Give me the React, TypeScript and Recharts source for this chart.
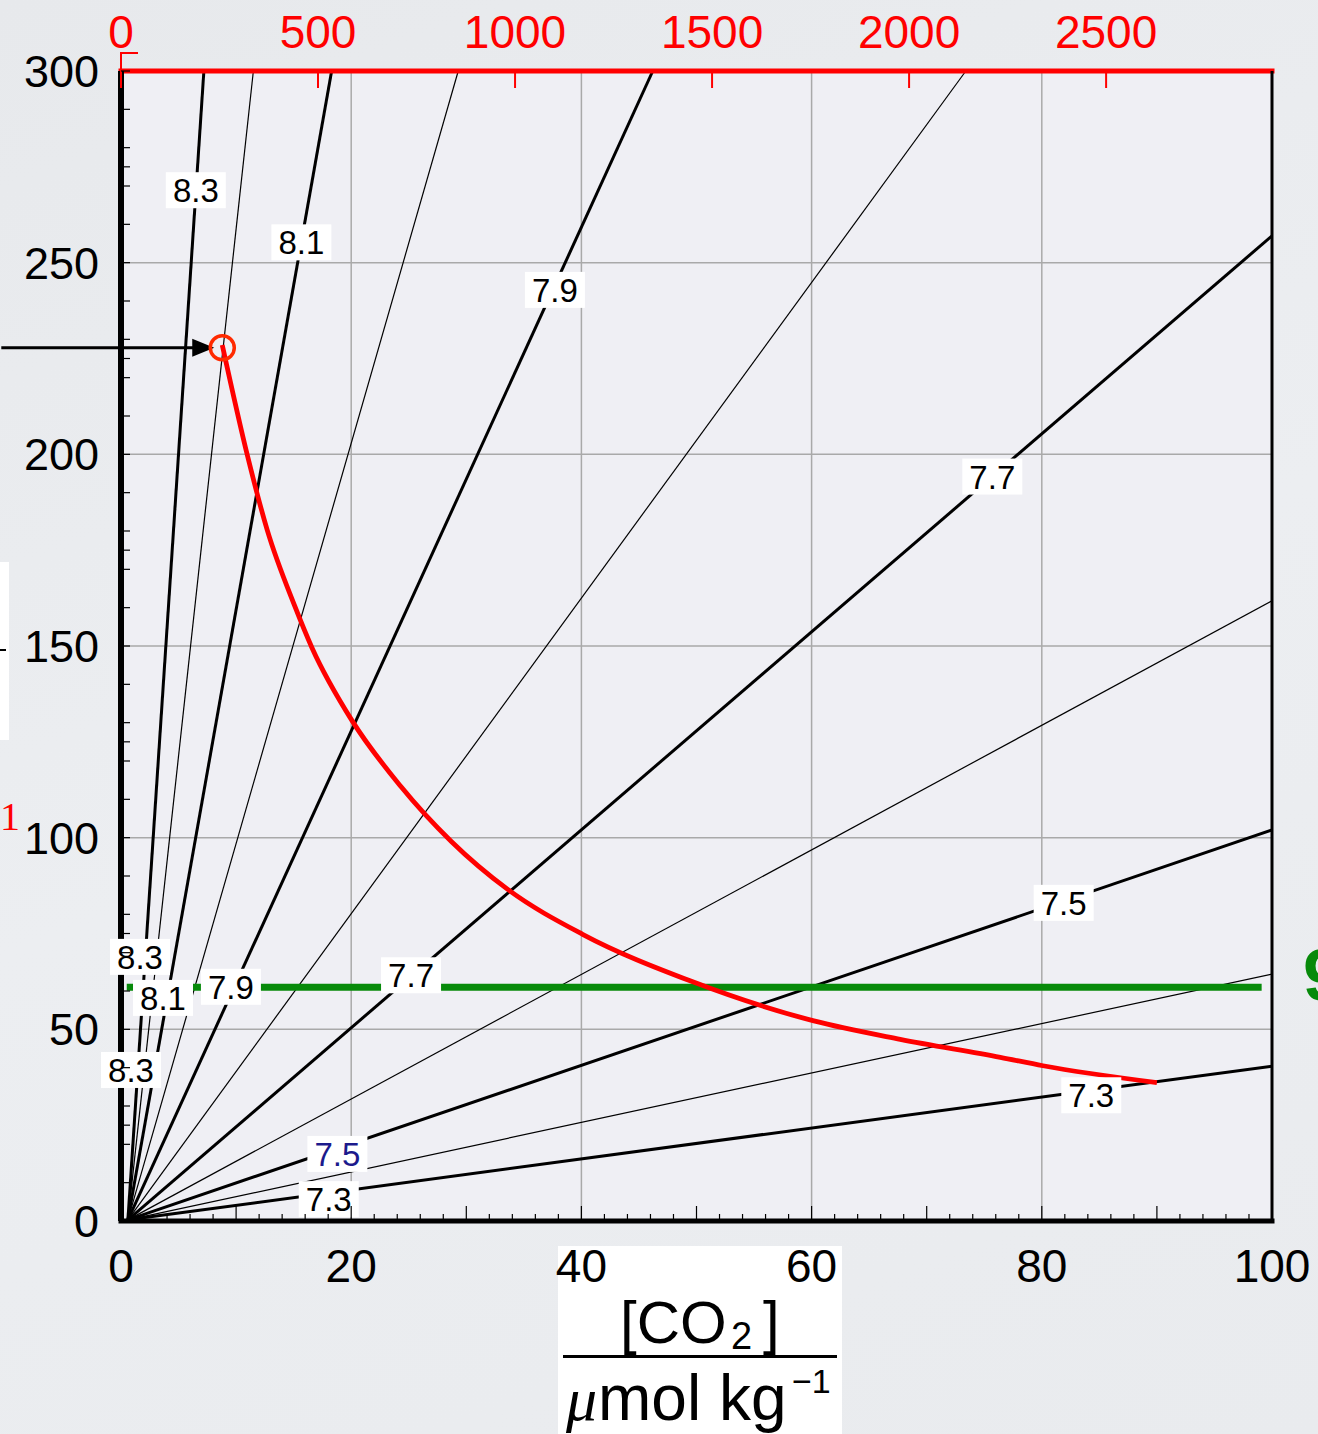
import React from "react";
import {
  ComposedChart,
  Line,
  Scatter,
  XAxis,
  YAxis,
  CartesianGrid,
  ReferenceLine,
} from "recharts";

const FONT = '"Liberation Sans", Arial, Helvetica, sans-serif';

// pH isolines: where each one leaves the plot box
const PH_VALUES = ["8.3", "8.2", "8.1", "8.0", "7.9", "7.8", "7.7", "7.6", "7.5", "7.4", "7.3"];
const PH_END_X = [7.2, 11.5, 18.3, 29.3, 46.2, 73.4, 100, 100, 100, 100, 100];
const PH_END_Y = [300, 300, 300, 300, 300, 300, 257, 161.8, 102, 64.4, 40.4];
const PH_HEAVY = [true, false, true, false, true, false, true, false, true, false, true];
const PH_START = { x: 0.6, y: 0.3 };

// isoline labels (white boxes)
const LABEL_TEXT = ["8.3", "8.1", "7.9", "7.7", "7.5", "7.3", "8.3", "8.1", "7.9", "7.7", "8.3", "7.5", "7.3"];
const LABEL_X = [6.5, 15.67, 37.7, 75.7, 81.9, 84.3, 1.65, 3.65, 9.55, 25.2, 0.87, 18.8, 18.05];
const LABEL_Y = [268.9, 255.3, 242.9, 194.2, 83, 32.8, 68.9, 58.2, 61.1, 64.1, 39.4, 17.5, 5.7];
const LABEL_COLOR = ["#000", "#000", "#000", "#000", "#000", "#000", "#000", "#000", "#000", "#000", "#000", "#1c1a8c", "#000"];

// red trajectory
const PATH_X = [8.8, 11, 12.7, 15.1, 16.6, 20.1, 24.3, 28.7, 33.6, 40.1, 49.5, 60.2, 67.7, 76.4, 80.1, 90];
const PATH_Y = [228.5, 199.5, 180.3, 160.4, 149.5, 130.4, 113.4, 99, 86.5, 74.8, 62.6, 52.2, 47.4, 42.7, 40.5, 36.1];

// start marker and arrow
const MARK_X = 8.8;
const MARK_Y = 227.8;
const ARROW_X = [-10.4, 8.1];

// green level
const GREEN_X = [0.5, 99.1];
const GREEN_Y = 61;

// axes
const X_TICKS = [0, 20, 40, 60, 80, 100];
const Y_TICKS = [0, 50, 100, 150, 200, 250, 300];
const TOP_TICKS = [0, 500, 1000, 1500, 2000, 2500];
const TOP_MAX = 2921;
const X_MINOR = Array.from({ length: 51 }, (_, i) => i * 2);
const Y_MINOR = Array.from({ length: 31 }, (_, i) => i * 10)
  .concat([25, 75, 125, 175, 225, 275])
  .sort((a, b) => a - b);

const isolines = PH_VALUES.map((ph, i) => ({
  ph,
  heavy: PH_HEAVY[i],
  data: [PH_START, { x: PH_END_X[i], y: PH_END_Y[i] }],
}));
const labels = LABEL_TEXT.map((text, i) => ({ x: LABEL_X[i], y: LABEL_Y[i], text, color: LABEL_COLOR[i] }));
const path = PATH_X.map((x, i) => ({ x, y: PATH_Y[i] }));
const green = GREEN_X.map((x) => ({ x, y: GREEN_Y }));

const LeftTick = ({ x, y, payload }: any) => (
  <text x={x - 22} y={y + 16} textAnchor="end" fontSize={45} fontFamily={FONT} fill="#000">
    {payload.value}
  </text>
);

const LeftMinorTick = ({ x, y }: any) => (
  <line x1={x + 1} x2={x + 10} y1={y} y2={y} stroke="#000" strokeWidth={1.2} />
);

const BottomTick = ({ x, y, payload }: any) => (
  <text x={x} y={y + 61} textAnchor="middle" fontSize={46} fontFamily={FONT} fill="#000">
    {payload.value}
  </text>
);

const BottomMinorTick = ({ x, y, payload }: any) => {
  const len = payload.value % 10 === 0 ? 13 : 5;
  return <line x1={x} x2={x} y1={y - 3} y2={y - 3 - len} stroke="#000" strokeWidth={1.2} />;
};

const TopTick = ({ x, y, payload }: any) => (
  <g>
    <line x1={x} x2={x} y1={y} y2={y + 17} stroke="#ff0000" strokeWidth={2} />
    {payload.value === 0 && (
      <path d={`M${x},${y} V${y - 18} H${x + 17}`} stroke="#ff0000" strokeWidth={2} fill="none" />
    )}
    <text x={x} y={y - 23} textAnchor="middle" fontSize={46} fontFamily={FONT} fill="#ff0000">
      {payload.value}
    </text>
  </g>
);

const LabelBox = (props: any) => {
  const { cx, cy, payload } = props;
  return (
    <g>
      <rect x={cx - 30} y={cy - 18} width={60} height={36} fill="#ffffff" />
      <text x={cx} y={cy + 12} textAnchor="middle" fontSize={33} fontFamily={FONT} fill={payload.color}>
        {payload.text}
      </text>
    </g>
  );
};

const Ring = ({ cx, cy }: any) => (
  <circle cx={cx} cy={cy} r={12} fill="none" stroke="#ff2a00" strokeWidth={3.5} />
);

const Arrow = (p: any) => (
  <g>
    <line x1={p.x1} y1={p.y1} x2={p.x2 - 18} y2={p.y2} stroke="#000" strokeWidth={3} />
    <polygon points={`${p.x2},${p.y2} ${p.x2 - 22},${p.y2 - 9} ${p.x2 - 22},${p.y2 + 9}`} fill="#000" />
  </g>
);

export default function App() {
  return (
    <div
      style={{
        position: "absolute",
        left: 0,
        top: 0,
        width: 1318,
        height: 1434,
        overflow: "hidden",
        background: "linear-gradient(160deg, #e7e9ec 0%, #eceef1 50%, #e9ebee 100%)",
      }}
    >
      <svg width={1318} height={1434} style={{ position: "absolute", left: 0, top: 0 }}>
        {/* page fragments cut by the crop */}
        <rect x={0} y={562} width={9} height={178} fill="#ffffff" />
        <rect x={0} y={649} width={6} height={2} fill="#000" />
        <text x={0} y={830} fontSize={40} fontFamily='"Liberation Serif", serif' fill="#ff0000">1</text>
        <text x={1303} y={1000} fontSize={72} fontWeight="bold" fontFamily={FONT} fill="#078a0a">9</text>

        {/* axis title */}
        <rect x={558} y={1246} width={284} height={190} fill="#ffffff" />
        <text x={620} y={1343} fontSize={60} fontFamily={FONT} fill="#000">[CO</text>
        <text x={731} y={1349} fontSize={38} fontFamily={FONT} fill="#000">2</text>
        <text x={763} y={1343} fontSize={60} fontFamily={FONT} fill="#000">]</text>
        <rect x={563} y={1355} width={274} height={3} fill="#000" />
        <text x={566} y={1420} fontSize={62} fontStyle="italic" fontFamily='"Liberation Serif", serif' fill="#000">μ</text>
        <text x={598} y={1420} fontSize={64} fontFamily={FONT} fill="#000">mol kg</text>
        <text x={792} y={1393} fontSize={34} fontFamily={FONT} fill="#000">−1</text>
      </svg>

      <div style={{ position: "absolute", left: 0, top: 0 }}>
        <ComposedChart
          width={1318}
          height={1434}
          margin={{ top: 70, left: 119, right: 45, bottom: 211 }}
        >
          <CartesianGrid stroke="#a9a9a9" strokeWidth={1.5} fill="#efeff4" />
          <XAxis
            dataKey="x"
            type="number"
            domain={[0, 100]}
            ticks={X_TICKS}
            interval={0}
            height={1}
            tickSize={0}
            tickMargin={0}
            tickLine={false}
            axisLine={{ stroke: "#000", strokeWidth: 5, strokeLinecap: "square" }}
            tick={BottomTick}
          />
          <XAxis
            xAxisId="minor"
            dataKey="x"
            type="number"
            domain={[0, 100]}
            ticks={X_MINOR}
            interval={0}
            height={1}
            tickSize={0}
            tickMargin={0}
            tickLine={false}
            axisLine={false}
            tick={BottomMinorTick}
          />
          <XAxis
            xAxisId="top"
            dataKey="x"
            orientation="top"
            type="number"
            domain={[0, TOP_MAX]}
            ticks={TOP_TICKS}
            interval={0}
            height={1}
            tickSize={0}
            tickMargin={0}
            tickLine={false}
            axisLine={{ stroke: "#ff0000", strokeWidth: 5, strokeLinecap: "square" }}
            tick={TopTick}
          />
          <YAxis
            dataKey="y"
            type="number"
            domain={[0, 300]}
            ticks={Y_TICKS}
            interval={0}
            width={1}
            tickSize={0}
            tickMargin={0}
            tickLine={false}
            axisLine={{ stroke: "#000", strokeWidth: 6 }}
            tick={LeftTick}
          />
          <YAxis
            yAxisId="minor"
            dataKey="y"
            type="number"
            domain={[0, 300]}
            ticks={Y_MINOR}
            interval={0}
            width={1}
            tickSize={0}
            tickMargin={0}
            tickLine={false}
            axisLine={false}
            tick={LeftMinorTick}
          />
          <YAxis
            yAxisId="right"
            dataKey="y"
            orientation="right"
            type="number"
            domain={[0, 300]}
            width={1}
            tick={false}
            tickLine={false}
            axisLine={{ stroke: "#000", strokeWidth: 3 }}
          />

          {/* invisible carriers so the secondary axes get scales */}
          <Line
            xAxisId="top"
            yAxisId="minor"
            data={green}
            dataKey="y"
            stroke="none"
            dot={false}
            activeDot={false}
            isAnimationActive={false}
          />
          <Line
            xAxisId="minor"
            yAxisId="right"
            data={green}
            dataKey="y"
            stroke="none"
            dot={false}
            activeDot={false}
            isAnimationActive={false}
          />

          {isolines.map((l) => (
            <Line
              key={l.ph}
              data={l.data}
              dataKey="y"
              type="linear"
              stroke="#000"
              strokeWidth={l.heavy ? 3 : 1.2}
              dot={false}
              activeDot={false}
              isAnimationActive={false}
            />
          ))}

          <Scatter data={labels} dataKey="y" shape={LabelBox} isAnimationActive={false} />

          <Line
            data={green}
            dataKey="y"
            type="linear"
            stroke="#078a0a"
            strokeWidth={7}
            dot={false}
            activeDot={false}
            isAnimationActive={false}
          />
          <Line
            data={path}
            dataKey="y"
            type="monotone"
            stroke="#ff0000"
            strokeWidth={4.8}
            dot={false}
            activeDot={false}
            isAnimationActive={false}
          />
          <Scatter data={[{ x: MARK_X, y: MARK_Y }]} dataKey="y" shape={Ring} isAnimationActive={false} />
          <ReferenceLine
            segment={[
              { x: ARROW_X[0], y: MARK_Y },
              { x: ARROW_X[1], y: MARK_Y },
            ]}
            ifOverflow="visible"
            shape={Arrow}
          />
        </ComposedChart>
      </div>
    </div>
  );
}
